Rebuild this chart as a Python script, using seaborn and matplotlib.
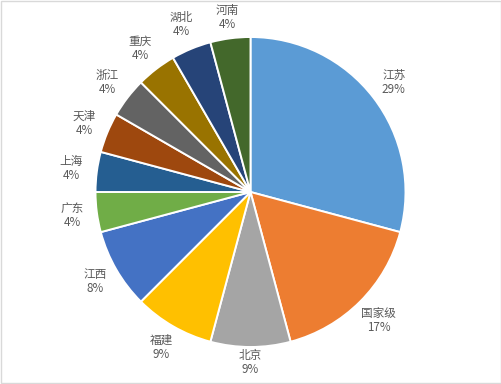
import matplotlib
matplotlib.use("Agg")
import matplotlib.pyplot as plt
import seaborn as sns
import numpy as np
from matplotlib.patches import Rectangle

# Data (units; labels as printed on the chart)
categories = ["江苏", "国家级", "北京", "福建", "江西", "广东", "上海", "天津", "浙江", "重庆", "湖北", "河南"]
values = [7, 4, 2, 2, 2, 1, 1, 1, 1, 1, 1, 1]
pct_labels = ["29%", "17%", "9%", "9%", "8%", "4%", "4%", "4%", "4%", "4%", "4%", "4%"]
colors = ["#5B9BD5", "#ED7D31", "#A5A5A5", "#FFC000", "#4472C4", "#70AD47",
          "#255E91", "#9E480E", "#636363", "#997300", "#264478", "#43682B"]
# label distance (in radii) for each slice label
label_dist = [1.165, 1.17, 1.10, 1.155, 1.155, 1.16, 1.165, 1.16, 1.165, 1.17, 1.17, 1.133]

sns.set_theme(style="white")
plt.rcParams["font.family"] = ["Noto Sans CJK SC", "DejaVu Sans"]

fig = plt.figure(figsize=(5.02, 3.84), dpi=100)
fig.patch.set_facecolor("white")
R = 155
cx, cy = 250.5, 192
W, H = 502, 384
ax = fig.add_axes([(cx - R) / W, (H - cy - R) / H, 2 * R / W, 2 * R / H])

labels = [f"{c}\n{p}" for c, p in zip(categories, pct_labels)]
wedges, texts = ax.pie(
    values, labels=labels, colors=colors, startangle=90, counterclock=False,
    labeldistance=1.16,
    wedgeprops=dict(edgecolor="white", linewidth=1.4),
    textprops=dict(ha="center", va="center", multialignment="center",
                   color="#595959", fontsize=8.4, linespacing=1.1),
)
for w, t, d in zip(wedges, texts, label_dist):
    ang = np.deg2rad((w.theta1 + w.theta2) / 2)
    t.set_position((d * np.cos(ang), d * np.sin(ang)))

ax.set_xlim(-1, 1)
ax.set_ylim(-1, 1)
ax.set_aspect("equal")
ax.axis("off")

fig.patches.append(Rectangle((0.001, 0.003), 0.997, 0.995, transform=fig.transFigure,
                             fill=False, edgecolor="#D9D9D9", linewidth=1))

fig.savefig("out.png", dpi=100, facecolor="white")
